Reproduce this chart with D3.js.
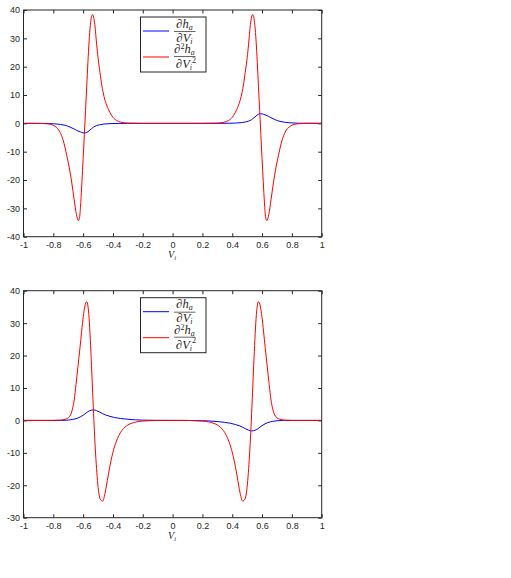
<!DOCTYPE html>
<meta charset="utf-8">
<style>
body { margin: 0; background: #fff; }
.tick text { font-family: "Liberation Sans", Arial, sans-serif; font-size: 9px; fill: #262626; }
.tick line { stroke: #262626; }
.math { font-family: "Liberation Serif", "DejaVu Serif", serif; font-style: italic; fill: #262626; }
</style>
<script src="https://cdn.jsdelivr.net/npm/d3@7"></script>
<div id="chart"></div>
<script>

// tick values
var xTicks = [-1, -0.8, -0.6, -0.4, -0.2, 0, 0.2, 0.4, 0.6, 0.8, 1];
var topYTicks = [-40, -30, -20, -10, 0, 10, 20, 30, 40];
var botYTicks = [-30, -20, -10, 0, 10, 20, 30, 40];

// panel (a): first derivative (blue)
var topFirst = [[-1,0],[-0.85,-0.05],[-0.8,-0.15],[-0.75,-0.4],[-0.72,-0.7],[-0.688,-1.3],[-0.66,-2.0],
  [-0.643,-2.5],[-0.62,-3.0],[-0.6,-3.35],[-0.588,-3.4],[-0.575,-3.2],[-0.56,-2.6],[-0.545,-1.95],
  [-0.53,-1.3],[-0.51,-0.8],[-0.49,-0.5],[-0.46,-0.25],[-0.42,-0.1],[-0.38,-0.04],[-0.3,0],[0,0],
  [0.3,0],[0.38,0.04],[0.42,0.1],[0.46,0.25],[0.49,0.5],[0.51,0.8],[0.53,1.3],[0.545,1.95],[0.56,2.6],
  [0.575,3.2],[0.588,3.4],[0.6,3.35],[0.62,3.0],[0.643,2.5],[0.66,2.0],[0.688,1.3],[0.72,0.7],
  [0.75,0.4],[0.8,0.15],[0.85,0.05],[1,0]];

// panel (a): second derivative (red)
var topSecond = [[-1,0],[-0.9,0],[-0.86,-0.1],[-0.82,-0.3],[-0.79,-1.0],[-0.77,-1.9],[-0.755,-3.1],
  [-0.735,-5.8],[-0.71,-11.3],[-0.69,-16.5],[-0.677,-20.7],[-0.66,-27],[-0.645,-32.2],[-0.632,-34.3],
  [-0.624,-33.2],[-0.616,-28],[-0.608,-20.5],[-0.6,-12.5],[-0.592,-4],[-0.584,4.5],[-0.576,13],
  [-0.568,21.5],[-0.56,29],[-0.552,34.5],[-0.544,37.6],[-0.536,38.4],[-0.528,37],[-0.52,34],
  [-0.514,30.5],[-0.505,25.5],[-0.495,21],[-0.487,18],[-0.475,13.5],[-0.46,9.5],[-0.442,6.4],
  [-0.42,3.8],[-0.4,2.1],[-0.375,1],[-0.35,0.45],[-0.3,0.1],[-0.2,0],[0,0],
  [0.2,0],[0.3,0.1],[0.35,0.45],[0.375,1],[0.4,2.1],[0.42,3.8],[0.442,6.4],[0.46,9.5],[0.475,13.5],
  [0.487,18],[0.495,21],[0.505,25.5],[0.514,30.5],[0.52,34],[0.528,37],[0.536,38.4],[0.544,37.6],
  [0.552,34.5],[0.56,29],[0.568,21.5],[0.576,13],[0.584,4.5],[0.592,-4],[0.6,-12.5],[0.608,-20.5],
  [0.616,-28],[0.624,-33.2],[0.632,-34.3],[0.645,-32.2],[0.66,-27],[0.677,-20.7],[0.69,-16.5],
  [0.71,-11.3],[0.735,-5.8],[0.755,-3.1],[0.77,-1.9],[0.79,-1.0],[0.82,-0.3],[0.86,-0.1],[0.9,0],[1,0]];

// panel (b): first derivative (blue)
var botFirst = [[-1,0],[-0.75,0],[-0.7,0.1],[-0.67,0.3],[-0.64,0.65],[-0.62,1.05],[-0.6,1.6],
  [-0.58,2.3],[-0.56,2.9],[-0.545,3.15],[-0.528,3.25],[-0.51,3.0],[-0.49,2.6],[-0.47,2.1],[-0.45,1.7],
  [-0.42,1.25],[-0.39,0.9],[-0.35,0.6],[-0.3,0.35],[-0.25,0.18],[-0.2,0.09],[-0.1,0.02],[0,0],
  [0.1,-0.02],[0.2,-0.09],[0.25,-0.18],[0.3,-0.35],[0.35,-0.6],[0.39,-0.9],[0.42,-1.25],[0.45,-1.7],
  [0.47,-2.1],[0.49,-2.6],[0.51,-3.0],[0.528,-3.25],[0.545,-3.15],[0.56,-2.9],[0.58,-2.3],[0.6,-1.6],
  [0.62,-1.05],[0.64,-0.65],[0.67,-0.3],[0.7,-0.1],[0.75,0],[1,0]];

// panel (b): second derivative (red)
var botSecond = [[-1,0],[-0.8,0],[-0.75,0.1],[-0.72,0.35],[-0.7,0.8],[-0.68,2.2],[-0.67,3.8],
  [-0.66,6.3],[-0.648,11],[-0.635,16.5],[-0.621,22.5],[-0.61,27.5],[-0.599,32],[-0.588,35.3],
  [-0.576,36.6],[-0.568,35.3],[-0.56,31.5],[-0.552,25],[-0.544,17],[-0.536,8.5],[-0.528,0],
  [-0.52,-7.5],[-0.512,-13.5],[-0.504,-18.5],[-0.495,-22.3],[-0.485,-24.3],[-0.469,-24.9],
  [-0.458,-23.5],[-0.445,-20.5],[-0.43,-16.5],[-0.415,-12.8],[-0.4,-9.8],[-0.38,-6.8],[-0.36,-4.6],
  [-0.34,-3.1],[-0.32,-2.1],[-0.3,-1.4],[-0.27,-0.8],[-0.24,-0.45],[-0.2,-0.2],[-0.15,-0.08],[-0.1,0],[0,0],
  [0.1,0],[0.15,-0.08],[0.2,-0.2],[0.24,-0.45],[0.27,-0.8],[0.3,-1.4],[0.32,-2.1],[0.34,-3.1],
  [0.36,-4.6],[0.38,-6.8],[0.4,-9.8],[0.415,-12.8],[0.43,-16.5],[0.445,-20.5],[0.458,-23.5],
  [0.469,-24.9],[0.485,-24.3],[0.495,-22.3],[0.504,-18.5],[0.512,-13.5],[0.52,-7.5],[0.528,0],
  [0.536,8.5],[0.544,17],[0.552,25],[0.56,31.5],[0.568,35.3],[0.576,36.6],[0.588,35.3],[0.599,32],
  [0.61,27.5],[0.621,22.5],[0.635,16.5],[0.648,11],[0.66,6.3],[0.67,3.8],[0.68,2.2],[0.7,0.8],
  [0.72,0.35],[0.75,0.1],[0.8,0],[1,0]];

var svg = d3.select("#chart").append("svg")
  .attr("width", 511)
  .attr("height", 578);

var x = d3.scaleLinear().domain([-1, 1]).range([23.5, 321.7]);
var fmt = function(d) { return String(d); };

function panel(top, bottom, yDomain, yTicks, first, second) {
  var y = d3.scaleLinear().domain(yDomain).range([bottom, top]);
  var g = svg.append("g");

  // ticks (inward, mirrored on top and right)
  g.append("g").attr("transform", "translate(0," + bottom + ")")
    .call(d3.axisBottom(x).tickValues(xTicks).tickFormat(fmt).tickSize(-3.5).tickPadding(5))
    .call(function(a) { a.select(".domain").remove(); });
  g.append("g").attr("transform", "translate(0," + top + ")")
    .call(d3.axisTop(x).tickValues(xTicks).tickFormat("").tickSize(-3.5))
    .call(function(a) { a.select(".domain").remove(); });
  g.append("g").attr("transform", "translate(" + x(-1) + ",0)")
    .call(d3.axisLeft(y).tickValues(yTicks).tickFormat(fmt).tickSize(-3.5).tickPadding(3.5))
    .call(function(a) { a.select(".domain").remove(); });
  g.append("g").attr("transform", "translate(" + x(1) + ",0)")
    .call(d3.axisRight(y).tickValues(yTicks).tickFormat("").tickSize(-3.5))
    .call(function(a) { a.select(".domain").remove(); });

  var line = d3.line()
    .x(function(d) { return x(d[0]); })
    .y(function(d) { return y(d[1]); })
    .curve(d3.curveMonotoneX);

  g.append("path").datum(first)
    .attr("d", line).attr("fill", "none").attr("stroke", "#0000ff").attr("stroke-width", 1);
  g.append("path").datum(second)
    .attr("d", line).attr("fill", "none").attr("stroke", "#ff0000").attr("stroke-width", 1);

  // frame
  g.append("rect")
    .attr("x", x(-1)).attr("y", top)
    .attr("width", x(1) - x(-1)).attr("height", bottom - top)
    .attr("fill", "none").attr("stroke", "#262626").attr("stroke-width", 1);

  // legend
  var lg = g.append("g").attr("transform", "translate(0," + (top + 7) + ")");
  lg.append("rect").attr("x", 140.5).attr("y", 0).attr("width", 65.5).attr("height", 55)
    .attr("fill", "#fff").attr("stroke", "#262626").attr("stroke-width", 1);
  lg.append("line").attr("x1", 143).attr("x2", 169).attr("y1", 14).attr("y2", 14)
    .attr("stroke", "#0000ff");
  lg.append("line").attr("x1", 143).attr("x2", 169).attr("y1", 40).attr("y2", 40)
    .attr("stroke", "#ff0000");

  var n1 = lg.append("text").attr("class", "math").attr("x", 184.5).attr("y", 10.5)
    .attr("text-anchor", "middle").style("font-size", "12.5px");
  n1.append("tspan").text("∂h");
  n1.append("tspan").attr("dy", 2).style("font-size", "8px").text("a");
  lg.append("line").attr("x1", 174).attr("x2", 195.5).attr("y1", 14.5).attr("y2", 14.5)
    .attr("stroke", "#262626").attr("stroke-width", 0.7);
  var d1 = lg.append("text").attr("class", "math").attr("x", 184.5).attr("y", 24.5)
    .attr("text-anchor", "middle").style("font-size", "12.5px");
  d1.append("tspan").text("∂V");
  d1.append("tspan").attr("dy", 2).style("font-size", "8px").text("i");

  var n2 = lg.append("text").attr("class", "math").attr("x", 184.5).attr("y", 36)
    .attr("text-anchor", "middle").style("font-size", "12.5px");
  n2.append("tspan").text("∂");
  n2.append("tspan").attr("dy", -4).style("font-size", "8px").style("font-style", "normal").text("2");
  n2.append("tspan").attr("dy", 4).text("h");
  n2.append("tspan").attr("dy", 2).style("font-size", "8px").text("a");
  lg.append("line").attr("x1", 174).attr("x2", 195.5).attr("y1", 39.5).attr("y2", 39.5)
    .attr("stroke", "#262626").attr("stroke-width", 0.7);
  var d2 = lg.append("text").attr("class", "math").attr("x", 186).attr("y", 51)
    .attr("text-anchor", "middle").style("font-size", "12.5px");
  d2.append("tspan").text("∂V");
  d2.append("tspan").attr("dy", 2).style("font-size", "8px").text("i");
  d2.append("tspan").attr("dy", -7.5).style("font-size", "8px").style("font-style", "normal").text("2");

  // x label
  var xl = g.append("text").attr("class", "math").attr("x", 172).attr("y", bottom + 21.5)
    .attr("text-anchor", "middle").style("font-size", "10px").attr("fill", "#555");
  xl.append("tspan").text("V");
  xl.append("tspan").attr("dy", 2).style("font-size", "6.5px").text("i");
}

panel(10, 236.7, [-40, 40], topYTicks, topFirst, topSecond);
panel(290.7, 517.7, [-30, 40], botYTicks, botFirst, botSecond);

// sub-figure captions, mostly cut off at the page bottom as in the source
svg.append("text").attr("x", 114).attr("y", 588).attr("text-anchor", "middle")
  .style("font-family", "Liberation Serif, serif").style("font-size", "12px").text("(a)");
svg.append("text").attr("x", 493).attr("y", 588).attr("text-anchor", "middle")
  .style("font-family", "Liberation Serif, serif").style("font-size", "12px").text("(b)");

</script>
